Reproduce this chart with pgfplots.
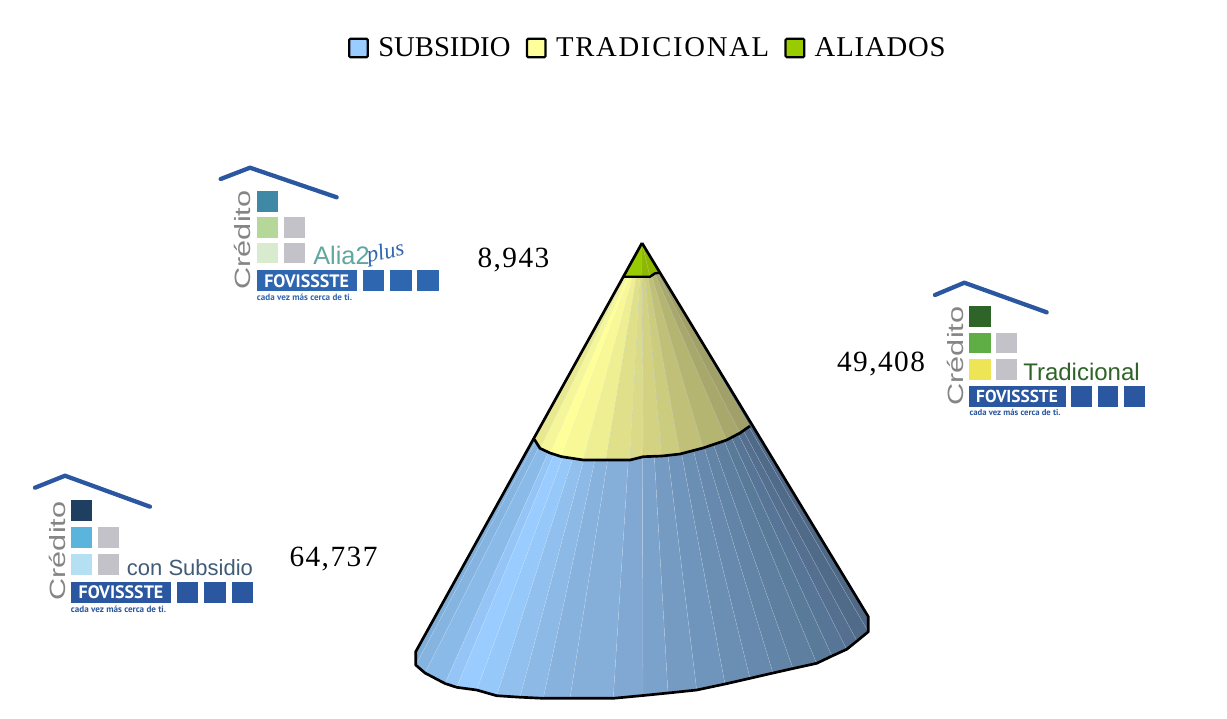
\documentclass[border=0pt]{standalone}
\usepackage{fontspec}
\setmainfont{Liberation Serif}
\newfontfamily\arialf{Liberation Sans}
\newfontfamily\ptf{PT Sans}
\newfontfamily\labf[LetterSpace=5]{Liberation Serif}
\newfontfamily\lgb[LetterSpace=6]{Liberation Serif}
\newfontfamily\lgc[LetterSpace=3]{Liberation Serif}
\usepackage{pgfplots}
\pgfplotsset{compat=1.18}
% blue facets
\definecolor{fb1}{HTML}{7FAED9}\definecolor{fb2}{HTML}{85B4E0}\definecolor{fb3}{HTML}{8ABAE8}
\definecolor{fb4}{HTML}{94C5F6}\definecolor{fb5}{HTML}{9ACCFF}\definecolor{fb6}{HTML}{97C8FA}
\definecolor{fb7}{HTML}{92C0EE}\definecolor{fb8}{HTML}{8CB9E6}\definecolor{fb9}{HTML}{87B2DE}
\definecolor{fb10}{HTML}{85AED8}\definecolor{fb11}{HTML}{80A8D2}\definecolor{fb12}{HTML}{7BA2CB}
\definecolor{fb13}{HTML}{769BC3}\definecolor{fb14}{HTML}{7095BC}\definecolor{fb15}{HTML}{6B8EB3}
\definecolor{fb16}{HTML}{6689AD}\definecolor{fb17}{HTML}{6284A7}\definecolor{fb18}{HTML}{5E7FA0}
\definecolor{fb19}{HTML}{5A7A9A}\definecolor{fb20}{HTML}{577596}\definecolor{fb21}{HTML}{546F8F}
\definecolor{fb22}{HTML}{506B8A}\definecolor{fb23}{HTML}{4E6885}
% yellow facets
\definecolor{fy1}{HTML}{E8E890}\definecolor{fy2}{HTML}{F5F59A}\definecolor{fy3}{HTML}{FFFF99}
\definecolor{fy4}{HTML}{F8F896}\definecolor{fy5}{HTML}{EEEE92}\definecolor{fy6}{HTML}{E0E08A}
\definecolor{fy7}{HTML}{DADA88}\definecolor{fy8}{HTML}{D2D282}\definecolor{fy9}{HTML}{CCCC7E}
\definecolor{fy10}{HTML}{C0C078}\definecolor{fy11}{HTML}{B5B572}\definecolor{fy12}{HTML}{A8A86C}
\definecolor{fy13}{HTML}{A0A068}
\definecolor{lgblue}{HTML}{99CCFF}\definecolor{lgyel}{HTML}{FFFF99}\definecolor{lggreen}{HTML}{99CC00}
\definecolor{fg2}{HTML}{8DB800}
% logos
\definecolor{roof}{HTML}{2A57A0}\definecolor{fov}{HTML}{2F66B0}\definecolor{sqg}{HTML}{C2C2C8}
\definecolor{ateal}{HTML}{3F88A6}\definecolor{agreen}{HTML}{B5D79A}\definecolor{apale}{HTML}{D9EBCF}
\definecolor{atext}{HTML}{5FA8A0}
\definecolor{tdark}{HTML}{2F6428}\definecolor{tgreen}{HTML}{5FAE45}\definecolor{tyel}{HTML}{EDE555}
\definecolor{sdark}{HTML}{1E3F5F}\definecolor{sblue}{HTML}{5AB4DC}\definecolor{spale}{HTML}{B5DFF3}
\definecolor{crgray}{HTML}{858585}
\newcommand\Tri[3]{\addplot[forget plot,fill=#1,draw=white,draw opacity=.22,line width=.3pt] coordinates {(642,243) (#2) (#3)} --cycle;}
\newcommand\Rect[5]{\addplot[forget plot,draw=none,fill=#1] coordinates {(#2,#3) (#4,#3) (#4,#5) (#2,#5)} --cycle;}
\newcommand\Roof[3]{\addplot[forget plot,roof,line width=3.2pt,line cap=round,line join=round] coordinates {(#1) (#2) (#3)};}
\newcommand\Cred{\scalebox{1}[0.72]{Crédito}}
\begin{document}
\begin{tikzpicture}
\begin{axis}[
  scale only axis, width=920.25pt, height=538.5pt,
  xmin=0, xmax=1227, ymin=0, ymax=718, y dir=reverse,
  axis lines=none, ticks=none,
  legend columns=-1,
  legend style={at={(axis cs:348,48)},anchor=west,draw=none,fill=none,inner sep=0pt,outer sep=0pt,
    font=\fontsize{21.5}{24}\selectfont,
    /tikz/every odd column/.append style={column sep=5pt},
    /tikz/every even column/.append style={column sep=9.5pt}},
  legend image code/.code={\draw[#1,rounded corners=1pt] (0pt,-7pt) rectangle (14pt,7pt);},
]
\addlegendimage{draw=black,line width=1.7pt,fill=lgblue}\addlegendentry{SUBSIDIO}
\addlegendimage{draw=black,line width=1.7pt,fill=lgyel}\addlegendentry{\lgb TRADICIONAL}
\addlegendimage{draw=black,line width=1.7pt,fill=lggreen}\addlegendentry{\lgc ALIADOS}
\Rect{white}{0}{0}{1227}{718}
% blue
\Tri{fb1}{415.7,651.7}{415.7,665}
\Tri{fb2}{415.7,665}{425,673}
\Tri{fb3}{425,673}{445,683.5}
\Tri{fb4}{445,683.5}{456.7,687.3}
\Tri{fb5}{456.7,687.3}{476.7,690}
\Tri{fb6}{476.7,690}{496.7,695.7}
\Tri{fb7}{496.7,695.7}{520,697.2}
\Tri{fb8}{520,697.2}{543.3,698.3}
\Tri{fb9}{543.3,698.3}{570,698.3}
\Tri{fb10}{570,698.3}{613.3,698.3}
\Tri{fb11}{613.3,698.3}{643,695.5}
\Tri{fb12}{643,695.5}{668,693}
\Tri{fb13}{668,693}{696.7,690}
\Tri{fb14}{696.7,690}{725,684}
\Tri{fb15}{725,684}{750,678.3}
\Tri{fb16}{750,678.3}{773,673}
\Tri{fb17}{773,673}{793,668.5}
\Tri{fb18}{793,668.5}{816.7,663.3}
\Tri{fb19}{816.7,663.3}{832,656}
\Tri{fb20}{832,656}{846.7,649.3}
\Tri{fb21}{846.7,649.3}{857,641}
\Tri{fb22}{857,641}{868.3,631.7}
\Tri{fb23}{868.3,631.7}{868.3,616.7}
% yellow
\Tri{fy1}{534.3,439.3}{540,448.3}
\Tri{fy2}{540,448.3}{550,453}
\Tri{fy3}{550,453}{561.7,456.7}
\Tri{fy4}{561.7,456.7}{583.3,460}
\Tri{fy5}{583.3,460}{606,460}
\Tri{fy6}{606,460}{630,460}
\Tri{fy7}{630,460}{643.3,456.7}
\Tri{fy8}{643.3,456.7}{662,456}
\Tri{fy9}{662,456}{680,454}
\Tri{fy10}{680,454}{703,448}
\Tri{fy11}{703,448}{726.7,440}
\Tri{fy12}{726.7,440}{740,433}
\Tri{fy13}{740,433}{750,426}
% green
\Tri{lggreen}{624,276.7}{642,276.7}
\Tri{fg2}{642,276.7}{650,276.7}
\Tri{fg2}{650,276.7}{660,272.7}
% outlines
\addplot[forget plot,black,line width=2pt,line join=round] coordinates {(534.3,439.3) (540,448.3) (550,453) (561.7,456.7) (583.3,460) (606,460) (630,460) (643.3,456.7) (662,456) (680,454) (703,448) (726.7,440) (740,433) (750,426)};
\addplot[forget plot,black,line width=1.8pt,line join=round] coordinates {(624,276.7) (650,276.7) (655,273.3) (660,272.7)};
\addplot[forget plot,black,line width=2pt,line join=round] coordinates {(642,243) (415.7,651.7) (415.7,665) (425,673) (445,683.5) (456.7,687.3) (476.7,690) (496.7,695.7) (520,697.2) (543.3,698.3) (570,698.3) (613.3,698.3) (643,695.5) (668,693) (696.7,690) (725,684) (750,678.3) (773,673) (793,668.5) (816.7,663.3) (832,656) (846.7,649.3) (857,641) (868.3,631.7) (868.3,616.7) (642,243)};
% value labels
\node[anchor=center,font=\labf\fontsize{22}{24}\selectfont] at (axis cs:513.5,260) {8,943};
\node[anchor=center,font=\labf\fontsize{22}{24}\selectfont] at (axis cs:881,363.5) {49,408};
\node[anchor=center,font=\labf\fontsize{22}{24}\selectfont] at (axis cs:333.5,559.5) {64,737};
% logo Alia2plus
\Roof{220.7,179}{250,167.7}{336.7,197.3}
\Rect{ateal}{256.7}{191}{278}{211.7}
\Rect{agreen}{256.7}{217.3}{278}{237.7}
\Rect{sqg}{284}{217.3}{305.3}{237.7}
\Rect{apale}{256.7}{243.3}{278}{263.3}
\Rect{sqg}{284}{243.3}{305.3}{263.3}
\Rect{fov}{256.7}{270}{356.7}{291}
\Rect{fov}{363.3}{270}{384}{291}
\Rect{fov}{390}{270}{411.7}{291}
\Rect{fov}{417.3}{270}{439.3}{291}
\node[rotate=90,text=crgray,font=\arialf\fontsize{23}{24}\selectfont] at (axis cs:242,240) {\Cred};
\node[text=white,font=\ptf\bfseries\fontsize{13.5}{14}\selectfont] at (axis cs:306.7,281) {FOVISSSTE};
\node[text=fov,font=\ptf\bfseries\fontsize{6.8}{7}\selectfont,anchor=west,inner sep=0pt] at (axis cs:256.7,297) {cada vez más cerca de ti.};
\node[text=atext,font=\arialf\fontsize{19}{20}\selectfont,anchor=base west,inner sep=0pt] at (axis cs:313,264) {Alia2};
\node[text=fov,font=\fontsize{17}{18}\selectfont\itshape,rotate=12,anchor=base west,inner sep=0pt] at (axis cs:368,263) {plus};
% logo Tradicional
\Roof{935,295}{964.3,282.7}{1046.7,312.3}
\Rect{tdark}{969.3}{306}{990.7}{327.3}
\Rect{tgreen}{969.3}{332.7}{990.7}{353.3}
\Rect{sqg}{996}{332.7}{1016.7}{353.3}
\Rect{tyel}{969.3}{359}{990.7}{380}
\Rect{sqg}{996}{359}{1016.7}{380}
\Rect{roof}{969.3}{386}{1065.7}{406.7}
\Rect{roof}{1071}{386}{1091.7}{406.7}
\Rect{roof}{1097.7}{386}{1118.3}{406.7}
\Rect{roof}{1124}{386}{1145}{406.7}
\node[rotate=90,text=crgray,font=\arialf\fontsize{23}{24}\selectfont] at (axis cs:955.5,356) {\Cred};
\node[text=white,font=\ptf\bfseries\fontsize{13}{14}\selectfont] at (axis cs:1017,396.5) {FOVISSSTE};
\node[text=roof,font=\ptf\bfseries\fontsize{6.5}{7}\selectfont,anchor=west,inner sep=0pt] at (axis cs:969.3,412.5) {cada vez más cerca de ti.};
\node[text=tdark,font=\arialf\fontsize{18}{20}\selectfont,anchor=base west,inner sep=0pt] at (axis cs:1023,380) {Tradicional};
% logo con Subsidio
\Roof{35,487.7}{65,475.7}{150,506.7}
\Rect{sdark}{70.7}{500}{92.3}{521}
\Rect{sblue}{70.7}{527.3}{92.3}{548.3}
\Rect{sqg}{98.3}{527.3}{119.3}{548.3}
\Rect{spale}{70.7}{554.3}{92.3}{575}
\Rect{sqg}{98.3}{554.3}{119.3}{575}
\Rect{roof}{70.7}{581.7}{171}{603.3}
\Rect{roof}{176.7}{581.7}{198.3}{603.3}
\Rect{roof}{204}{581.7}{225.7}{603.3}
\Rect{roof}{231.7}{581.7}{253.3}{603.3}
\node[rotate=90,text=crgray,font=\arialf\fontsize{23}{24}\selectfont] at (axis cs:57.5,551) {\Cred};
\node[text=white,font=\ptf\bfseries\fontsize{13.5}{14}\selectfont] at (axis cs:121,592.5) {FOVISSSTE};
\node[text=roof,font=\ptf\bfseries\fontsize{6.8}{7}\selectfont,anchor=west,inner sep=0pt] at (axis cs:70.7,609.5) {cada vez más cerca de ti.};
\node[text=sdark!85!white,font=\arialf\fontsize{16.5}{18}\selectfont,anchor=base west,inner sep=0pt] at (axis cs:126.7,575.7) {con Subsidio};
\end{axis}
\end{tikzpicture}
\end{document}
